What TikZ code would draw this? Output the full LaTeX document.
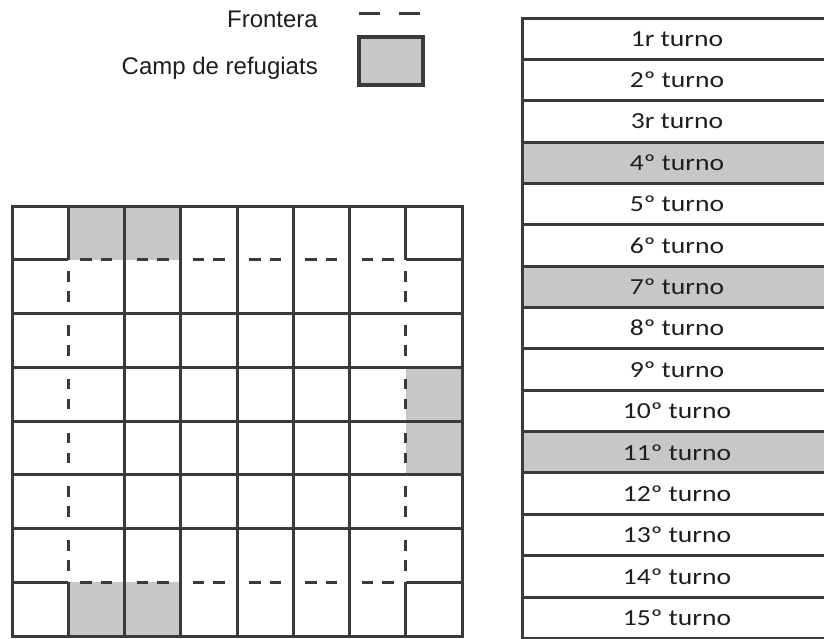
\documentclass[tikz,border=0pt]{standalone}
\usepackage{fontspec}
\usepackage{graphicx}
\setmainfont{Liberation Sans}
\newfontfamily\tabfont{Carlito}
\definecolor{cellgray}{RGB}{199,199,201}
\definecolor{linegray}{RGB}{58,58,58}
\definecolor{txtcol}{RGB}{30,30,30}
\begin{document}
\begin{tikzpicture}[x=1pt,y=-1pt,
  gridline/.style={draw=linegray,line width=3pt},
  dashseg/.style={draw=linegray,line width=3.4pt},
  rowbox/.style={draw=linegray,line width=3pt,minimum width=310pt,minimum height=41.36pt,inner sep=0pt,text=txtcol,font=\tabfont\fontsize{23}{27}\selectfont},
  legtext/.style={inner sep=0pt,anchor=base east,text=txtcol,font=\fontsize{24}{28}\selectfont}]
\useasboundingbox (0,0) rectangle (824,638);
% legend
\node[legtext] (lfront) at (318,27.3) {Frontera};
\node[legtext] (lcamp) at (318,74) {Camp de refugiats};
\draw[draw=linegray,line width=3.5pt,dash pattern=on 21pt off 19pt] (359,13.3) -- (420,13.3);
\draw[draw=linegray,line width=3.5pt,fill=cellgray] (359,37) rectangle (423,85);
% grid fills
\foreach \c/\r in {1/0,2/0,7/3,7/4,1/7,2/7}
  \fill[cellgray] (12+\c*56.25,206+\r*53.75) rectangle ++(56.25,53.75);
% full solid lines
\foreach \i in {2,...,6} {
  \draw[gridline] (12+\i*56.25,206) -- (12+\i*56.25,636);
  \draw[gridline] (12,206+\i*53.75) -- (462,206+\i*53.75);
}
% partly solid lines (index 1 and 7) with dashed border segments
\foreach \i in {1,7} {
  \draw[gridline] (12+\i*56.25,206) -- (12+\i*56.25,259.75);
  \draw[gridline] (12+\i*56.25,582.25) -- (12+\i*56.25,636);
  \draw[gridline] (12,206+\i*53.75) -- (68.25,206+\i*53.75);
  \draw[gridline] (405.75,206+\i*53.75) -- (462,206+\i*53.75);
  \foreach \s in {1,...,6} {
    \draw[dashseg] (12+\s*56.25+12,206+\i*53.75) -- ++(11.5,0);
    \draw[dashseg] (12+\s*56.25+32.5,206+\i*53.75) -- ++(11.5,0);
    \draw[dashseg] (12+\i*56.25,206+\s*53.75+11.5) -- ++(0,10.5);
    \draw[dashseg] (12+\i*56.25,206+\s*53.75+31.5) -- ++(0,10.5);
  }
}
\draw[gridline,line join=miter] (12,206) rectangle (462,636);
% table
\foreach \lab [count=\k] in {1r,2º,3r,4º,5º,6º,7º,8º,9º,10º,11º,12º,13º,14º,15º} {
  \ifnum\k=4 \def\fc{cellgray}\else\ifnum\k=7 \def\fc{cellgray}\else\ifnum\k=11 \def\fc{cellgray}\else\def\fc{white}\fi\fi\fi
  \node[rowbox,fill=\fc] (row\k) at (677,18+\k*41.36-20.68) {\scalebox{1.2}[1]{\lab{} turno}};
}
\end{tikzpicture}
\end{document}
